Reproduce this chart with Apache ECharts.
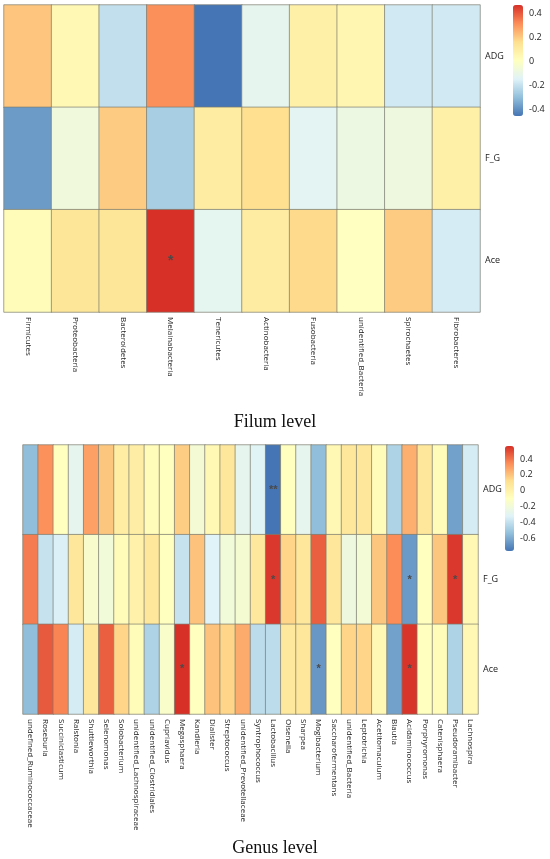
<!DOCTYPE html>
<html>
<head>
<meta charset="utf-8">
<script src="https://cdn.jsdelivr.net/npm/echarts@6/dist/echarts.min.js"></script>
<style>
html,body{margin:0;padding:0;background:#fff;}
#main{width:550px;height:859px;}
</style>
</head>
<body>
<div id="main"></div>
<script>
var rows = ['ADG', 'F_G', 'Ace'];

// phylum level
var phylum = ['Firmicutes', 'Proteobacteria', 'Bacteroidetes', 'Melainabacteria', 'Tenericutes',
	'Actinobacteria', 'Fusobacteria', 'unidentified_Bacteria', 'Spirochaetes', 'Fibrobacteres'];
var phylumADG = [0.21, 0.04, -0.21, 0.31, -0.46, -0.12, 0.08, 0.05, -0.18, -0.18];
var phylumFG  = [-0.38, -0.07, 0.20, -0.26, 0.10, 0.16, -0.135, -0.09, -0.08, 0.08];
var phylumAce = [0.02, 0.13, 0.13, 0.47, -0.125, 0.10, 0.17, 0.00, 0.20, -0.17];
var phylumSig = {ADG: [], F_G: [], Ace: ['', '', '', '*']};
var phylumTicks = [-0.4, 0.4, 0.2];   // min, max, step

// genus level
var genus = ['undefined_Ruminococcaceae', 'Roseburia', 'Succiniclasticum', 'Ralstonia', 'Shuttleworthia',
	'Selenomonas', 'Solobacterium', 'unidentified_Lachnospiraceae', 'unidentified_Clostridiales', 'Cupriavidus',
	'Megasphaera', 'Kandleria', 'Dialister', 'Streptococcus', 'unidentified_Prevotellaceae',
	'Syntrophococcus', 'Lactobacillus', 'Olsenella', 'Sharpea', 'Mogibacterium',
	'Saccharofermentans', 'unidentified_Bacteria', 'Leptotrichia', 'Acetitomaculum', 'Blautia',
	'Acidaminococcus', 'Porphyromonas', 'Catenisphaera', 'Pseudoramibacter', 'Lachnospira'];
var genusADG = [-0.54, 0.33, -0.10, -0.28, 0.29, 0.19, 0.03, 0.02, -0.07, -0.10,
	0.17, -0.18, -0.05, 0.07, -0.28, -0.31, -0.76, -0.10, -0.28, -0.54,
	-0.05, 0.07, 0.07, -0.07, -0.46, 0.25, 0.07, -0.07, -0.63, -0.35];
var genusFG = [0.38, -0.39, -0.33, 0.07, -0.15, -0.20, -0.07, 0.00, 0.07, -0.10,
	-0.39, 0.20, -0.32, -0.20, -0.17, 0.06, 0.54, 0.15, 0.07, 0.45,
	0.07, -0.22, -0.19, 0.19, 0.34, -0.65, -0.10, 0.19, 0.54, -0.05];
var genusAce = [-0.54, 0.46, 0.36, -0.35, 0.07, 0.45, 0.15, -0.07, -0.46, -0.14,
	0.56, -0.10, 0.20, 0.15, 0.26, -0.42, -0.42, 0.06, 0.07, -0.66,
	-0.10, 0.15, 0.15, -0.05, -0.63, 0.55, -0.10, -0.07, -0.46, -0.05];
var genusSig = {ADG: [], F_G: [], Ace: []};
genusSig.ADG[16] = '**';
genusSig.F_G[16] = '*'; genusSig.F_G[25] = '*'; genusSig.F_G[28] = '*';
genusSig.Ace[10] = '*'; genusSig.Ace[19] = '*'; genusSig.Ace[25] = '*';
var genusTicks = [-0.6, 0.4, 0.2];

var palette = ['#4575B4', '#91BFDB', '#E0F3F8', '#FFFFBF', '#FEE090', '#FC8D59', '#D73027'];

function buildData(vals, sig){
	var out = [];
	for(var r = 0; r < rows.length; r++){
		var v = vals[r];
		for(var i = 0; i < v.length; i++){
			out.push({value: [i, r, v[i]], sig: sig[rows[r]][i] || ''});
		}
	}
	return out;
}
function range(vals){
	var all = [].concat(vals[0], vals[1], vals[2]);
	return [Math.min.apply(null, all), Math.max.apply(null, all)];
}

var pVals = [phylumADG, phylumFG, phylumAce];
var gVals = [genusADG, genusFG, genusAce];
var pRange = range(pVals);
var gRange = range(gVals);

var labelFont = {fontFamily: 'Open Sans', fontSize: 8, color: '#222'};

function catX(idx, data){
	return {
		type: 'category', gridIndex: idx, data: data,
		axisLine: {show: false}, axisTick: {show: false}, splitLine: {show: false},
		axisLabel: Object.assign({rotate: -90, margin: 5, interval: 0}, labelFont)
	};
}
function catY(idx){
	return {
		type: 'category', gridIndex: idx, data: rows, inverse: true, position: 'right',
		axisLine: {show: false}, axisTick: {show: false}, splitLine: {show: false},
		axisLabel: Object.assign({margin: 5}, labelFont, {fontSize: 9})
	};
}
function barY(idx, t){
	return {
		type: 'value', gridIndex: idx, position: 'right', min: t[0], max: t[1], interval: t[2],
		axisLine: {show: false}, axisTick: {show: false}, splitLine: {show: false},
		axisLabel: Object.assign({margin: 6}, labelFont, {fontSize: 9})
	};
}
function heat(idx, data, fs){
	return {
		type: 'heatmap', xAxisIndex: idx, yAxisIndex: idx, data: data,
		itemStyle: {borderColor: '#7c7c70', borderWidth: 0.7},
		label: {show: true, color: '#4a4a4a', fontSize: fs, fontWeight: 'bold',
			formatter: function(p){ return p.data.sig; }},
		emphasis: {disabled: true}
	};
}

var myChart = echarts.init(document.getElementById('main'));
var option = {
	backgroundColor: '#fff',
	animation: false,
	title: [
		{text: 'Filum level', left: 'center', top: 408, textStyle: {fontFamily: 'Liberation Serif', fontSize: 18, fontWeight: 'normal', color: '#111'}},
		{text: 'Genus level', left: 'center', top: 834, textStyle: {fontFamily: 'Liberation Serif', fontSize: 18, fontWeight: 'normal', color: '#111'}}
	],
	grid: [
		{left: 4, top: 5, width: 476, height: 307},
		{left: 23, top: 445, width: 455, height: 269},
		{left: 513, top: 13, width: 10, height: 96},
		{left: 505, top: 459, width: 9, height: 79}
	],
	xAxis: [
		catX(0, phylum),
		catX(1, genus),
		{type: 'value', gridIndex: 2, show: false, min: 0, max: 1},
		{type: 'value', gridIndex: 3, show: false, min: 0, max: 1}
	],
	yAxis: [catY(0), catY(1), barY(2, phylumTicks), barY(3, genusTicks)],
	visualMap: [
		{type: 'continuous', seriesIndex: 0, min: pRange[0], max: pRange[1], calculable: false,
			itemWidth: 10, itemHeight: 111, left: 513, top: 5, padding: 0, text: null,
			showLabel: false, inRange: {color: palette}},
		{type: 'continuous', seriesIndex: 1, min: gRange[0], max: gRange[1], calculable: false,
			itemWidth: 9, itemHeight: 105, left: 505, top: 446, padding: 0, text: null,
			showLabel: false, inRange: {color: palette}}
	],
	series: [
		heat(0, buildData(pVals, phylumSig), 14),
		heat(1, buildData(gVals, genusSig), 11)
	]
};
myChart.setOption(option);
</script>
</body>
</html>
